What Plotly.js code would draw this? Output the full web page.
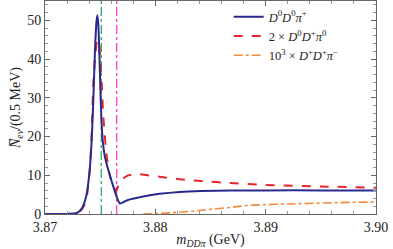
<!DOCTYPE html>
<html>
<head>
<meta charset="utf-8">
<script src="https://cdn.plot.ly/plotly-3.0.1.min.js"></script>
<style>html,body{margin:0;padding:0;background:#fff}#plot{width:393px;height:249px}</style>
</head>
<body>
<div id="plot"></div>
<script>
// D0 D0 pi+ (blue)
const xBlue = [3.870, 3.8720, 3.87288, 3.87333, 3.87372, 3.87402, 3.87423, 3.87438, 3.87453, 3.87466, 3.87474, 3.87483, 3.87492, 3.87505, 3.87514, 3.87525, 3.8754, 3.8756, 3.8759, 3.8762, 3.8765, 3.8768, 3.8774, 3.8789, 3.8804, 3.8822, 3.8842, 3.8868, 3.890, 3.895, 3.900];
const yBlue = [0, 0.02, 0.26, 1.4, 4.4, 10.4, 19.0, 29.4, 42.3, 49.5, 51.3, 49.0, 42.3, 29.4, 23.0, 18.5, 15.2, 12.8, 9.8, 7.0, 4.4, 2.7, 3.5, 4.5, 5.2, 5.7, 5.95, 6.05, 6.1, 6.1, 6.1];
// 2 x D0 D+ pi0 (red)
const xRed = [3.870, 3.8722, 3.87302, 3.87347, 3.87378, 3.87408, 3.87423, 3.87438, 3.87458, 3.87470, 3.87478, 3.87488, 3.87499, 3.87514, 3.87529, 3.8756, 3.8759, 3.8762, 3.87644, 3.8768, 3.8774, 3.8783, 3.8804, 3.8822, 3.8842, 3.8868, 3.890, 3.895, 3.900];
const yRed = [0, 0.02, 0.25, 1.8, 4.4, 12.1, 20.8, 33.7, 41.5, 44.5, 45.0, 44.5, 40.0, 33.7, 25.0, 14.7, 9.6, 7.4, 5.9, 8.3, 9.8, 10.3, 9.6, 9.0, 8.5, 8.0, 7.5, 7.1, 6.8];
// 10^3 x D+ D+ pi- (orange)
const xOrange = [3.8789, 3.8800, 3.8813, 3.8832, 3.8850, 3.8868, 3.8884, 3.8920, 3.8960, 3.900];
const yOrange = [0, 0.1, 0.3, 0.7, 1.2, 1.7, 2.2, 2.6, 2.9, 3.1];
// thresholds (GeV)
const thrGreen = [3.8751, 3.8751];
const thrMagenta = [3.8765, 3.8765];
const thrY = [0, 55];
const legendNames = ["<i>D</i><sup>0</sup><i>D</i><sup>0</sup><i>π</i><sup>+</sup>",
  "2 × <i>D</i><sup>0</sup><i>D</i><sup>+</sup><i>π</i><sup>0</sup>",
  "10<sup>3</sup> × <i>D</i><sup>+</sup><i>D</i><sup>+</sup><i>π</i><sup>−</sup>"];
const xTickVals = [3.87, 3.88, 3.89, 3.90];
const xTickText = ["3.87", "3.88", "3.89", "3.90"];
const yTickVals = [0, 10, 20, 30, 40, 50];

const fam = "Liberation Serif, serif";
const tickFont = {family: fam, size: 14, color: "#222"};
const titleFont = {family: fam, size: 14, color: "#222"};

const traces = [
  {x: thrGreen, y: thrY, mode: "lines", line: {color: "#22a05a", width: 1.2, dash: "dashdot"}, showlegend: false, hoverinfo: "skip"},
  {x: thrMagenta, y: thrY, mode: "lines", line: {color: "#ff2ec8", width: 1.2, dash: "dashdot"}, showlegend: false, hoverinfo: "skip"},
  {x: xOrange, y: yOrange, mode: "lines", name: legendNames[2], line: {color: "#f7893b", width: 1.6, dash: "dashdot", shape: "spline"}},
  {x: xRed, y: yRed, mode: "lines", name: legendNames[1], line: {color: "#e8252d", width: 2, dash: "dash", shape: "spline", smoothing: 0.6}},
  {x: xBlue, y: yBlue, mode: "lines", name: legendNames[0], line: {color: "#2a2a8e", width: 2, shape: "spline", smoothing: 0.6}}
];

const layout = {
  width: 393, height: 249,
  margin: {l: 45, r: 17, t: 1, b: 35},
  paper_bgcolor: "#fff", plot_bgcolor: "#fff",
  font: tickFont,
  showlegend: true,
  legend: {x: 0.555, y: 0.995, xanchor: "left", yanchor: "top", bgcolor: "rgba(0,0,0,0)", traceorder: "reversed",
           font: {family: fam, size: 12.5, color: "#222"}, itemwidth: 30, tracegroupgap: 0},
  xaxis: {
    range: [3.87, 3.90], tickvals: xTickVals, ticktext: xTickText,
    ticks: "inside", ticklen: 5, tickcolor: "#666", showline: true, linecolor: "#666", linewidth: 1, mirror: "allticks",
    showgrid: false, zeroline: false,
    minor: {dtick: 0.002, ticks: "inside", ticklen: 3, tickcolor: "#999", showgrid: false},
    title: {text: "<i>m</i><sub><i>DDπ</i></sub> (GeV)", font: titleFont, standoff: 2},
    tickfont: tickFont
  },
  yaxis: {
    range: [0, 55], tickvals: yTickVals,
    ticks: "inside", ticklen: 5, tickcolor: "#666", showline: true, linecolor: "#666", linewidth: 1, mirror: "allticks",
    showgrid: false, zeroline: false,
    minor: {dtick: 2, ticks: "inside", ticklen: 3, tickcolor: "#999", showgrid: false},
    title: {text: "<i>N̅</i><sub><i>ev</i></sub>/(0.5 MeV)", font: titleFont, standoff: 3},
    tickfont: tickFont
  }
};

Plotly.newPlot("plot", traces, layout, {displayModeBar: false, staticPlot: true});
</script>
</body>
</html>
